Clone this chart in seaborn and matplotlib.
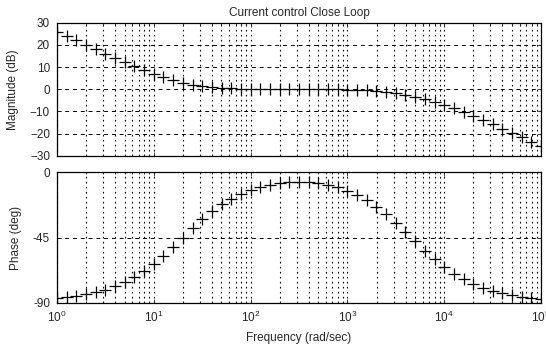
import matplotlib
matplotlib.use("Agg")
import matplotlib.pyplot as plt
import matplotlib.ticker as mticker
import seaborn as sns
import pandas as pd

freq = [1, 1.259, 1.585, 1.995, 2.512, 3.162, 3.981, 5.012, 6.310, 7.943,
        10, 12.59, 15.85, 19.95, 25.12, 31.62, 39.81, 50.12, 63.10, 79.43,
        100, 125.9, 158.5, 199.5, 251.2, 316.2, 398.1, 501.2, 631.0, 794.3,
        1000, 1259, 1585, 1995, 2512, 3162, 3981, 5012, 6310, 7943,
        10000, 12589, 15849, 19953, 25119, 31623, 39811, 50119, 63096, 79433,
        100000]
magnitude_db = [26.0, 24.0, 22.0, 20.0, 18.1, 16.1, 14.1, 12.3, 10.4, 8.6,
                7.0, 5.5, 4.2, 3.0, 2.1, 1.4, 0.9, 0.6, 0.4, 0.25,
                0.17, 0.1, 0.07, 0.04, 0.03, 0.0, 0.0, -0.05, -0.08, -0.13,
                -0.2, -0.3, -0.5, -0.7, -1.1, -1.6, -2.4, -3.3, -4.4, -5.7,
                -7.0, -8.6, -10.3, -12.0, -13.9, -15.8, -17.8, -19.7, -21.7, -23.7,
                -25.7]
phase_deg = [-87.0, -86.3, -85.4, -84.2, -82.7, -80.9, -78.7, -75.9, -72.4, -68.3,
             -63.3, -57.8, -51.6, -45.1, -38.6, -32.5, -27.0, -22.2, -18.1, -14.7,
             -12.1, -10.1, -8.6, -7.5, -6.8, -6.4, -6.6, -7.3, -8.5, -10.3,
             -12.7, -15.6, -19.3, -23.7, -28.9, -34.8, -41.2, -47.7, -54.1, -60.0,
             -65.4, -70.0, -73.9, -77.0, -79.6, -81.7, -83.4, -84.8, -85.8, -86.7,
             -87.4]

title = "Current control Close Loop"
mag_ticks = [30, 20, 10, 0, -10, -20, -30]
phase_ticks = [0, -45, -90]
phase_ticklabels = ["0", "-45", "-90"]

df = pd.DataFrame({"freq": freq, "mag": magnitude_db, "phase": phase_deg})

sns.set_style("ticks")
plt.rcParams["font.family"] = ["Liberation Sans", "DejaVu Sans"]
plt.rcParams["font.size"] = 8.5

fig = plt.figure(figsize=(5.46, 3.44), dpi=100)
W, H = 546, 344
def rect(x0, y0, x1, y1):
    return [x0 / W, 1 - y1 / H, (x1 - x0) / W, (y1 - y0) / H]

ax1 = fig.add_axes(rect(57, 22.7, 541, 155.7))
ax2 = fig.add_axes(rect(57, 172.3, 541, 302.7))

for ax, col in [(ax1, "mag"), (ax2, "phase")]:
    sns.scatterplot(data=df, x="freq", y=col, ax=ax, marker="+", s=80,
                    color="black", linewidth=0.9, zorder=3, legend=False)
    ax.set_xscale("log")
    ax.set_xlim(1, 1e5)
    ax.xaxis.set_major_locator(mticker.LogLocator(base=10, numticks=10))
    ax.xaxis.set_minor_locator(mticker.LogLocator(base=10, subs=range(2, 10), numticks=100))
    ax.grid(True, which="both", axis="x", linestyle=(0, (1.5, 3)), color="black", linewidth=0.8)
    ax.grid(True, which="major", axis="y", linestyle=(0, (4, 4)), color="black", linewidth=0.7)
    ax.tick_params(direction="in", which="both", top=True, right=True, labelsize=8.5,
                   length=3, width=0.6, pad=5)
    ax.tick_params(which="minor", length=1.5)
    for sp in ax.spines.values():
        sp.set_color("black")
        sp.set_linewidth(0.9)
    ax.set_xlabel("")

ax1.set_ylim(-30, 30)
ax1.set_yticks(mag_ticks)
ax1.set_ylabel("Magnitude (dB)", fontsize=8.5, labelpad=8)
ax1.tick_params(labelbottom=False)
ax1.set_title(title, fontsize=8.5, pad=5)

ax2.set_ylim(-90, 0)
ax2.set_yticks(phase_ticks)
ax2.set_yticklabels(phase_ticklabels)
ax2.set_ylabel("Phase (deg)", fontsize=8.5, labelpad=8)
ax2.set_xlabel("Frequency (rad/sec)", fontsize=8.5, labelpad=5)

fig.savefig("out.png", dpi=100)
